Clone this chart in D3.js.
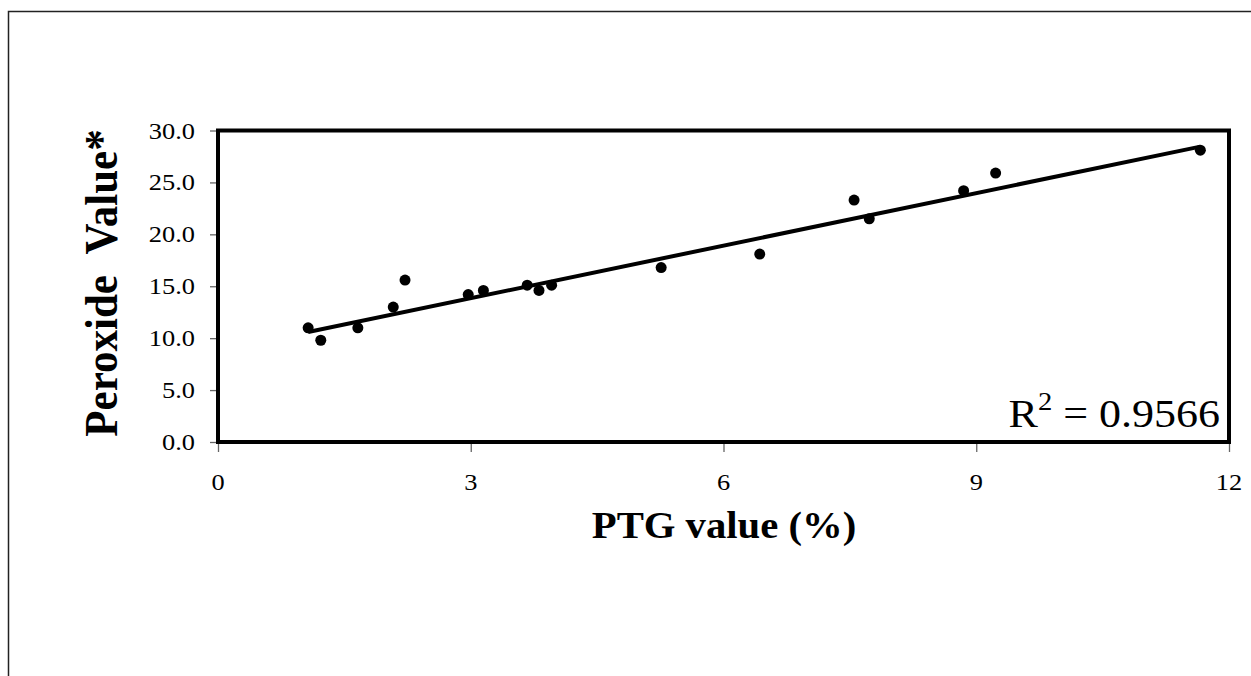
<!DOCTYPE html>
<html><head><meta charset="utf-8">
<script src="https://cdn.jsdelivr.net/npm/d3@7"></script>
<style>body{margin:0;background:#fff}svg{display:block}</style>
</head><body>
<script>
const ptgValues = [1.07,1.22,1.66,2.08,2.22,2.97,3.15,3.67,3.81,3.96,5.26,6.43,7.55,7.73,8.85,9.23,11.66];
const peroxideValues = [11.0,9.8,11.0,13.0,15.6,14.2,14.6,15.1,14.6,15.1,16.8,18.1,23.3,21.5,24.2,25.9,28.1];
const trendX = [1.07, 11.66];
const trendY = [10.6, 28.45];
const xTicks = [0,3,6,9,12];
const yTicks = [0,5,10,15,20,25,30];
const r2Label = "0.9566";
const xTitle = "PTG value (%)";
const yTitle = "Peroxide  Value*";

const W = 1251, H = 676, SX = 1.1;
const svg = d3.select("body").append("svg").attr("width", W).attr("height", H);

// outer frame
svg.append("rect").attr("x", 8.5).attr("y", 11.5).attr("width", 1300).attr("height", 800)
  .attr("fill", "none").attr("stroke", "#222").attr("stroke-width", 1.5);

const x = d3.scaleLinear().domain([0, 12]).range([218, 1229]);
const y = d3.scaleLinear().domain([0, 30]).range([442, 130.5]);
const font = "'Liberation Serif','Times New Roman',serif";

// ticks
const xAxis = svg.append("g").attr("transform", "translate(0,442)")
  .call(d3.axisBottom(x).tickValues(xTicks).tickSize(10).tickFormat(""));
const yAxis = svg.append("g").attr("transform", "translate(218,0)")
  .call(d3.axisLeft(y).tickValues(yTicks).tickSize(8).tickFormat(""));
[xAxis, yAxis].forEach(a => {
  a.select(".domain").remove();
  a.selectAll("line").attr("stroke", "#666").attr("stroke-width", 1.3);
});

// tick labels
svg.append("g").selectAll("text").data(yTicks).join("text")
  .attr("transform", d => `translate(195,${y(d) + 8}) scale(${SX},1)`)
  .attr("text-anchor", "end").attr("font-family", font).attr("font-size", 24)
  .text(d => d.toFixed(1));
svg.append("g").selectAll("text").data(xTicks).join("text")
  .attr("transform", d => `translate(${x(d)},${490}) scale(${SX},1)`)
  .attr("text-anchor", "middle").attr("font-family", font).attr("font-size", 24)
  .text(d => d);

// plot border
svg.append("rect").attr("x", x(0)).attr("y", y(30)).attr("width", x(12) - x(0)).attr("height", y(0) - y(30))
  .attr("fill", "none").attr("stroke", "#000").attr("stroke-width", 4);

// trendline
svg.append("line").attr("x1", x(trendX[0])).attr("y1", y(trendY[0]))
  .attr("x2", x(trendX[1])).attr("y2", y(trendY[1]))
  .attr("stroke", "#000").attr("stroke-width", 4);

// points
const pts = ptgValues.map((v, i) => [v, peroxideValues[i]]);
svg.append("g").selectAll("circle").data(pts).join("circle")
  .attr("cx", d => x(d[0])).attr("cy", d => y(d[1])).attr("r", 5.5).attr("fill", "#000");

// R^2 label
const rt = svg.append("text").attr("transform", `translate(1220,427) scale(${SX},1)`)
  .attr("text-anchor", "end").attr("font-family", font).attr("font-size", 40);
rt.append("tspan").text("R");
rt.append("tspan").attr("dy", -17).attr("font-size", 26).text("2");
rt.append("tspan").attr("dy", 17).text(" = " + r2Label);

// axis titles
svg.append("text").attr("transform", `translate(724,538) scale(${SX},1)`)
  .attr("text-anchor", "middle").attr("font-family", font).attr("font-weight", "bold").attr("font-size", 37)
  .text(xTitle);
svg.append("text").attr("transform", `translate(117,283) rotate(-90) scale(1,${SX})`)
  .attr("text-anchor", "middle").attr("font-family", font).attr("font-weight", "bold").attr("font-size", 43)
  .text(yTitle).style("white-space", "pre");
</script>
</body></html>
